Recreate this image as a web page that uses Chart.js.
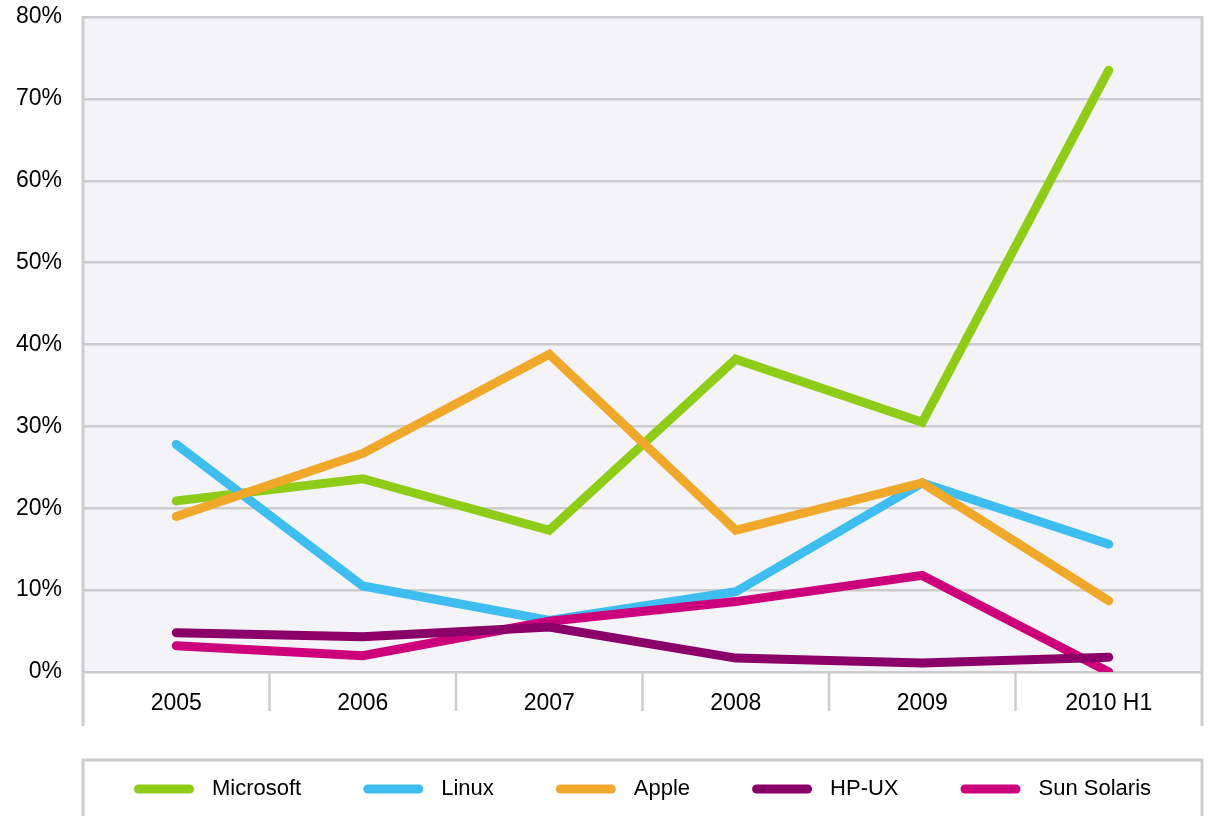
<!DOCTYPE html>
<html>
<head>
<meta charset="utf-8">
<script src="https://cdn.jsdelivr.net/npm/chart.js@4/dist/chart.umd.min.js"></script>
<style>
  html, body { margin: 0; padding: 0; background: #ffffff; }
  #wrap { width: 1213px; height: 816px; position: relative; }
</style>
</head>
<body>
<div id="wrap"><canvas id="c" width="1213" height="816"></canvas></div>
<script>
// Share of vulnerabilities by platform, per year
const years = ['2005', '2006', '2007', '2008', '2009', '2010 H1'];
const microsoft  = [20.9, 23.6, 17.3, 38.2, 30.5, 73.5];
const linux      = [27.8, 10.5, 6.3, 9.8, 23.1, 15.6];
const apple      = [19.0, 26.7, 38.8, 17.3, 23.1, 8.7];
const hpux       = [4.8, 4.3, 5.5, 1.7, 1.1, 1.8];
const sunSolaris = [3.2, 2.0, 6.2, 8.6, 11.8, 0.0];
const seriesNames = ['Microsoft', 'Linux', 'Apple', 'HP-UX', 'Sun Solaris'];
const yTicks = [0, 10, 20, 30, 40, 50, 60, 70, 80];

const colors = ['#8fcc17', '#3ebdf0', '#f0a82b', '#8a0068', '#cc007a'];
const drawOrder = [4, 3, 0, 1, 2]; // lower = drawn later (on top)
const FONT = '"Liberation Sans", Arial, sans-serif';
const GRID = '#cdcdcd';

const seriesValues = [microsoft, linux, apple, hpux, sunSolaris];

// Plot background, frame, category separators and bottom legend
const decor = {
  id: 'decor',
  beforeDraw(chart) {
    const { ctx, chartArea: a } = chart;
    ctx.save();
    ctx.fillStyle = '#f3f3f8';
    ctx.fillRect(a.left, a.top, a.right - a.left, a.bottom - a.top);
    ctx.restore();
  },
  afterDatasetsDraw(chart) {
    const { ctx, chartArea: a, scales } = chart;
    const x = scales.x;
    ctx.save();
    ctx.strokeStyle = GRID;
    ctx.lineWidth = 3;
    // outer frame sides running below the axis
    ctx.beginPath();
    ctx.moveTo(a.left, a.top - 1); ctx.lineTo(a.left, 726);
    ctx.moveTo(a.right, a.top - 1); ctx.lineTo(a.right, 726);
    ctx.stroke();
    // separators between categories
    ctx.lineWidth = 2.5;
    ctx.beginPath();
    for (let i = 0; i < years.length - 1; i++) {
      const sx = (x.getPixelForValue(i) + x.getPixelForValue(i + 1)) / 2;
      ctx.moveTo(sx, a.bottom); ctx.lineTo(sx, 711);
    }
    ctx.stroke();

    // legend box
    ctx.lineWidth = 3;
    ctx.strokeRect(a.left, 760, a.right - a.left, 80);
    ctx.font = '22px ' + FONT;
    ctx.textBaseline = 'middle';
    ctx.textAlign = 'left';
    const sample = 60, gapText = 18, gapItem = 62, ly = 789;
    const ds = chart.data.datasets;
    const widths = ds.map(d => sample + gapText + ctx.measureText(d.label).width);
    const total = widths.reduce((s, w) => s + w, 0) + gapItem * (ds.length - 1);
    let cx = (a.left + a.right) / 2 - total / 2;
    ds.forEach((d, i) => {
      ctx.strokeStyle = d.borderColor;
      ctx.lineWidth = 9;
      ctx.lineCap = 'round';
      ctx.beginPath();
      ctx.moveTo(cx + 4.5, ly); ctx.lineTo(cx + sample - 4.5, ly);
      ctx.stroke();
      ctx.fillStyle = '#000000';
      ctx.fillText(d.label, cx + sample + gapText, ly);
      cx += widths[i] + gapItem;
    });
    ctx.restore();
  }
};

new Chart(document.getElementById('c'), {
  type: 'line',
  data: {
    labels: years,
    datasets: seriesNames.map((name, i) => ({
      label: name,
      data: seriesValues[i],
      borderColor: colors[i],
      backgroundColor: colors[i],
      borderWidth: 9,
      borderCapStyle: 'round',
      borderJoinStyle: 'miter',
      pointRadius: 0,
      pointHoverRadius: 0,
      tension: 0,
      fill: false,
      order: drawOrder[i]
    }))
  },
  options: {
    responsive: false,
    animation: false,
    events: [],
    layout: { padding: { top: 17, right: 11, left: 0, bottom: 0 } },
    plugins: {
      legend: { display: false },
      tooltip: { enabled: false }
    },
    scales: {
      x: {
        offset: true,
        afterFit(scale) { scale.height = 144; scale.paddingLeft = 0; scale.paddingRight = 0; },
        grid: { display: false },
        border: { display: false },
        ticks: { color: '#000000', font: { family: FONT, size: 23 }, padding: 10, maxRotation: 0 }
      },
      y: {
        min: 0,
        max: 80,
        afterFit(scale) { scale.width = 83; scale.paddingTop = 0; scale.paddingBottom = 0; },
        afterBuildTicks(scale) { scale.ticks = yTicks.map(v => ({ value: v })); },
        grid: { color: GRID, lineWidth: 2.5, drawTicks: false },
        border: { display: false },
        ticks: {
          color: '#000000',
          font: { family: FONT, size: 23 },
          padding: 21,
          callback: v => v + '%'
        }
      }
    }
  },
  plugins: [decor]
});
</script>
</body>
</html>
